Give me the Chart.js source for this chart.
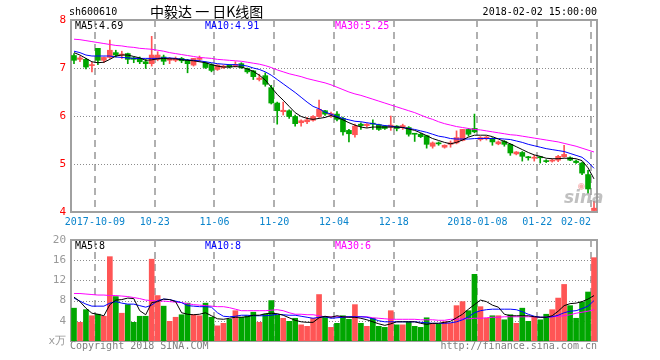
<!DOCTYPE html>
<html>
<head>
<meta charset="utf-8">
<script src="https://cdn.jsdelivr.net/npm/chart.js@4.4.0/dist/chart.umd.min.js"></script>
<style>
    body { margin: 0; background: #fff; }
    #wrap { position: relative; width: 660px; height: 360px; overflow: hidden;
            font-family: "DejaVu Sans Mono", monospace; font-size: 10px; }
    canvas { position: absolute; left: 0; top: 0; }
    .t { position: absolute; white-space: pre; line-height: 12px; }
</style>
</head>
<body>
<div id="wrap">
    <canvas id="kline" width="660" height="360"></canvas>
    <canvas id="vol" width="660" height="360"></canvas>

    <div class="t" style="left:69px;top:6px;color:#000">sh600610</div>
    <div class="t" style="left:150px;top:3px;line-height:16px;font-size:14px;font-family:'Noto Sans CJK SC',sans-serif;color:#000">中毅达 一 日K线图</div>
    <div class="t" style="right:63px;top:6px;color:#000">2018-02-02 15:00:00</div>

    <div class="t" style="left:75px;top:20px;color:#000">MA5:4.69</div>
    <div class="t" style="left:205px;top:20px;color:#0000ff">MA10:4.91</div>
    <div class="t" style="left:335px;top:20px;color:#ff00ff">MA30:5.25</div>

    <div class="t" style="left:75px;top:240px;color:#000">MA5:8</div>
    <div class="t" style="left:205px;top:240px;color:#0000ff">MA10:8</div>
    <div class="t" style="left:335px;top:240px;color:#ff00ff">MA30:6</div>

    <div class="t" style="left:578px;top:180px;font-size:11px;color:rgba(240,120,120,0.6)">◉</div>
    <div class="t" style="left:564px;top:188px;line-height:18px;font-size:17px;font-weight:bold;font-style:italic;font-family:'DejaVu Sans',sans-serif;color:rgba(150,150,150,0.6)">sina</div>

    <div class="t" style="left:70px;top:340px;color:#808080">Copyright 2018 SINA.COM</div>
    <div class="t" style="right:63px;top:340px;color:#808080">http://finance.sina.com.cn</div>
</div>

<script>
// trading days 2017-09-26 .. 2018-02-02, one slot each
const dateLabels = ['2017-10-09', '10-23', '11-06', '11-20', '12-04', '12-18', '2018-01-08', '01-22', '02-02'];
const dateIdx = [4, 14, 24, 34, 44, 54, 68, 78, 87];

const openP = [
    7.26, 7.18, 7.18, 7.05, 7.41, 7.16, 7.22, 7.32, 7.27, 7.30,
    7.21, 7.20, 7.13, 7.09, 7.18, 7.23, 7.16, 7.16, 7.20, 7.16,
    7.06, 7.18, 7.11, 7.07, 6.97, 7.01, 7.06, 7.05, 7.09, 6.99,
    6.94, 6.76, 6.84, 6.59, 6.27, 6.09, 6.11, 5.99, 5.86, 5.88,
    5.91, 5.99, 6.11, 6.02, 6.04, 5.95, 5.70, 5.61, 5.83, 5.80,
    5.84, 5.82, 5.79, 5.77, 5.79, 5.77, 5.76, 5.63, 5.62, 5.59,
    5.37, 5.43, 5.35, 5.41, 5.44, 5.49, 5.72, 5.74, 5.51, 5.53,
    5.53, 5.42, 5.47, 5.41, 5.21, 5.24, 5.14, 5.12, 5.15, 5.06,
    5.06, 5.08, 5.15, 5.13, 5.06, 5.02, 4.78, 4.03,
];
const highP = [
    7.30, 7.25, 7.20, 7.12, 7.41, 7.23, 7.58, 7.37, 7.35, 7.31,
    7.23, 7.23, 7.18, 7.66, 7.34, 7.27, 7.22, 7.23, 7.22, 7.18,
    7.20, 7.25, 7.13, 7.09, 7.07, 7.06, 7.07, 7.13, 7.11, 7.00,
    6.95, 6.87, 6.90, 6.64, 6.29, 6.29, 6.13, 6.02, 5.92, 5.97,
    6.01, 6.33, 6.12, 6.08, 6.09, 5.98, 5.72, 5.83, 5.86, 5.84,
    5.92, 5.83, 5.80, 6.00, 5.80, 5.83, 5.78, 5.64, 5.64, 5.60,
    5.46, 5.46, 5.40, 5.48, 5.69, 5.72, 5.74, 6.04, 5.57, 5.58,
    5.55, 5.48, 5.49, 5.42, 5.26, 5.26, 5.16, 5.18, 5.16, 5.09,
    5.10, 5.18, 5.39, 5.15, 5.08, 5.04, 4.87, 4.22,
];
const lowP = [
    7.09, 7.13, 6.98, 6.92, 7.07, 7.11, 7.20, 7.23, 7.20, 7.09,
    7.11, 7.09, 6.99, 7.04, 7.15, 7.07, 7.09, 7.13, 7.11, 6.90,
    7.04, 7.13, 6.99, 6.92, 6.95, 6.99, 7.00, 7.02, 6.99, 6.89,
    6.76, 6.73, 6.62, 6.25, 5.83, 6.02, 5.95, 5.79, 5.79, 5.84,
    5.89, 5.97, 6.01, 5.97, 5.90, 5.60, 5.46, 5.56, 5.72, 5.76,
    5.72, 5.70, 5.72, 5.70, 5.69, 5.72, 5.58, 5.47, 5.55, 5.33,
    5.33, 5.39, 5.33, 5.35, 5.42, 5.48, 5.58, 5.65, 5.48, 5.50,
    5.39, 5.40, 5.37, 5.18, 5.19, 5.06, 5.08, 5.06, 5.02, 5.03,
    5.04, 5.05, 5.14, 5.07, 5.01, 4.78, 4.39, 4.03,
];
const closeP = [
    7.16, 7.21, 7.02, 7.06, 7.16, 7.22, 7.37, 7.27, 7.28, 7.18,
    7.18, 7.13, 7.09, 7.27, 7.27, 7.14, 7.20, 7.20, 7.15, 7.09,
    7.20, 7.21, 7.01, 6.95, 7.06, 7.04, 7.02, 7.07, 7.01, 6.92,
    6.82, 6.79, 6.66, 6.27, 6.11, 6.12, 5.99, 5.84, 5.90, 5.92,
    5.99, 6.14, 6.04, 6.05, 5.93, 5.67, 5.63, 5.79, 5.80, 5.83,
    5.83, 5.72, 5.74, 5.81, 5.74, 5.80, 5.62, 5.62, 5.57, 5.41,
    5.44, 5.42, 5.39, 5.44, 5.55, 5.72, 5.62, 5.67, 5.55, 5.56,
    5.46, 5.46, 5.41, 5.23, 5.25, 5.16, 5.13, 5.14, 5.13, 5.05,
    5.07, 5.16, 5.20, 5.08, 5.03, 4.81, 4.48, 4.08,
];

const ma5 = [
    7.32, 7.27, 7.20, 7.13, 7.11, 7.12, 7.18, 7.25, 7.27, 7.27,
    7.24, 7.21, 7.16, 7.17, 7.19, 7.20, 7.19, 7.19, 7.17, 7.16,
    7.15, 7.13, 7.11, 7.07, 7.04, 7.02, 7.02, 7.03, 7.02, 6.98,
    6.93, 6.85, 6.75, 6.60, 6.45, 6.33, 6.20, 6.07, 5.99, 5.95,
    5.93, 5.95, 5.97, 6.01, 5.97, 5.92, 5.86, 5.81, 5.77, 5.75,
    5.77, 5.77, 5.77, 5.77, 5.77, 5.76, 5.73, 5.70, 5.65, 5.59,
    5.53, 5.49, 5.45, 5.42, 5.45, 5.50, 5.56, 5.60, 5.60, 5.60,
    5.57, 5.52, 5.47, 5.42, 5.36, 5.30, 5.24, 5.19, 5.16, 5.12,
    5.11, 5.11, 5.12, 5.12, 5.11, 5.07, 4.92, 4.69,
];
const ma10 = [
    7.35, 7.32, 7.27, 7.25, 7.25, 7.25, 7.25, 7.23, 7.22, 7.21,
    7.20, 7.20, 7.20, 7.20, 7.20, 7.21, 7.21, 7.20, 7.18, 7.17,
    7.16, 7.15, 7.13, 7.11, 7.09, 7.08, 7.07, 7.07, 7.06, 7.04,
    7.00, 6.97, 6.92, 6.85, 6.76, 6.67, 6.58, 6.49, 6.39, 6.29,
    6.20, 6.15, 6.08, 6.04, 5.99, 5.95, 5.92, 5.89, 5.88, 5.86,
    5.84, 5.82, 5.80, 5.79, 5.77, 5.76, 5.74, 5.72, 5.69, 5.66,
    5.62, 5.58, 5.56, 5.53, 5.52, 5.52, 5.52, 5.53, 5.53, 5.53,
    5.53, 5.53, 5.52, 5.51, 5.48, 5.45, 5.41, 5.38, 5.35, 5.32,
    5.30, 5.28, 5.26, 5.22, 5.18, 5.14, 5.04, 4.91,
];
const ma30 = [
    7.60, 7.59, 7.57, 7.55, 7.53, 7.51, 7.49, 7.47, 7.46, 7.44,
    7.43, 7.41, 7.40, 7.39, 7.37, 7.35, 7.32, 7.30, 7.28, 7.26,
    7.24, 7.22, 7.21, 7.20, 7.18, 7.17, 7.16, 7.15, 7.14, 7.12,
    7.10, 7.08, 7.05, 7.01, 6.96, 6.92, 6.88, 6.85, 6.82, 6.78,
    6.75, 6.72, 6.69, 6.65, 6.60, 6.55, 6.50, 6.46, 6.43, 6.39,
    6.35, 6.31, 6.27, 6.23, 6.19, 6.15, 6.11, 6.07, 6.02, 5.97,
    5.93, 5.88, 5.84, 5.81, 5.78, 5.76, 5.74, 5.72, 5.71, 5.69,
    5.67, 5.65, 5.63, 5.61, 5.60, 5.58, 5.56, 5.54, 5.52, 5.50,
    5.48, 5.46, 5.43, 5.40, 5.37, 5.33, 5.29, 5.25,
];

const volume = [
    6.5, 3.7, 6.2, 5.0, 5.3, 4.9, 16.7, 8.8, 5.5, 7.2,
    3.7, 4.9, 4.9, 16.2, 9.0, 6.9, 3.9, 4.7, 5.2, 7.5,
    5.2, 5.0, 7.5, 4.7, 3.0, 3.5, 4.3, 6.0, 4.7, 5.0,
    5.7, 3.7, 5.3, 8.0, 5.1, 4.5, 3.9, 4.5, 3.2, 2.9,
    4.5, 9.2, 4.8, 2.7, 3.5, 5.0, 4.3, 7.2, 3.5, 2.9,
    4.5, 2.9, 2.7, 6.0, 3.2, 3.2, 3.8, 2.9, 2.7, 4.6,
    3.5, 3.3, 3.8, 3.5, 7.0, 7.8, 6.0, 13.2, 6.8, 4.5,
    5.0, 5.0, 4.2, 5.2, 3.5, 6.5, 3.9, 4.7, 4.2, 5.3,
    6.2, 8.5, 11.2, 7.0, 4.5, 7.7, 9.7, 16.5,
];
const volMa5 = [
    8.7, 7.8, 6.5, 5.5, 5.3, 5.0, 7.2, 8.1, 8.2, 8.5,
    8.4, 6.0, 5.2, 7.6, 7.8, 8.3, 8.2, 7.8, 5.6, 5.3,
    5.2, 5.3, 5.6, 5.0, 4.4, 4.3, 4.5, 4.7, 4.7, 4.8,
    5.1, 5.1, 5.4, 5.5, 5.4, 5.1, 4.6, 4.1, 3.8, 3.7,
    3.7, 4.6, 4.9, 4.7, 5.0, 4.8, 4.7, 4.7, 4.5, 4.2,
    3.8, 3.4, 3.1, 3.4, 3.8, 3.8, 3.8, 3.8, 3.5, 3.3,
    3.5, 3.5, 3.7, 3.9, 4.6, 5.3, 6.3, 7.2, 8.1, 7.8,
    7.1, 6.7, 5.3, 5.0, 5.0, 5.0, 5.0, 4.8, 4.7, 4.7,
    5.0, 5.9, 7.0, 7.4, 7.5, 7.8, 8.3, 9.0,
];
const volMa10 = [
    8.5, 7.9, 7.3, 6.9, 6.9, 6.9, 7.5, 7.8, 7.5, 7.3,
    7.3, 7.0, 6.7, 7.1, 8.0, 8.3, 8.2, 7.9, 7.6, 7.0,
    6.9, 6.8, 6.8, 6.7, 5.6, 4.9, 4.8, 4.9, 5.1, 5.1,
    5.0, 5.0, 5.0, 5.1, 5.3, 5.2, 5.1, 5.1, 4.9, 4.7,
    4.5, 4.7, 4.8, 4.5, 4.6, 4.7, 4.8, 4.8, 4.8, 4.7,
    4.4, 4.0, 3.8, 3.8, 3.8, 3.8, 3.8, 3.8, 3.7, 3.6,
    3.5, 3.5, 3.5, 3.6, 3.8, 4.2, 4.8, 5.6, 6.0, 6.2,
    6.3, 6.3, 6.3, 6.3, 6.2, 5.8, 5.3, 4.9, 4.7, 4.7,
    4.8, 5.1, 5.6, 5.9, 6.0, 6.4, 6.9, 8.0,
];
const volMa30 = [
    9.4, 9.4, 9.3, 9.2, 9.1, 9.1, 9.0, 9.0, 8.9, 8.8,
    8.6, 8.4, 8.1, 8.0, 7.9, 7.9, 7.8, 7.7, 7.6, 7.4,
    7.2, 7.1, 7.0, 6.9, 6.8, 6.8, 6.6, 6.3, 6.0, 6.0,
    6.0, 6.0, 6.0, 6.1, 6.2, 6.0, 5.6, 5.3, 5.3, 5.2,
    5.2, 5.0, 4.8, 4.8, 4.8, 4.8, 4.8, 4.8, 4.8, 4.8,
    4.6, 4.5, 4.4, 4.3, 4.3, 4.3, 4.3, 4.3, 4.2, 4.2,
    4.2, 4.1, 4.1, 4.3, 4.3, 4.4, 4.4, 4.5, 4.5, 4.6,
    4.7, 4.7, 4.8, 4.8, 4.8, 4.8, 4.8, 4.8, 4.7, 4.7,
    4.8, 4.9, 5.0, 5.2, 5.5, 5.7, 5.9, 6.2,
];

const N = closeP.length;
const UP = '#ff5555';
const DOWN = '#00a600';
const candleColor = closeP.map((c, i) => (c >= openP[i] ? UP : DOWN));
const pts = (arr) => arr.map((v, i) => ({ x: i, y: v }));

// grid lines sit on the left edge of a day's slot; a blank first tick keeps the
// 'inner' alignment from touching the first real label
const tickPos = [-0.5, ...dateIdx.map((d) => d - 0.5)];

Chart.defaults.font.family = '"DejaVu Sans Mono", monospace';
Chart.defaults.font.size = 10;

// dashed date lines, dotted value lines and the grey frame
const gridPlugin = {
    id: 'gridFrame',
    beforeDatasetsDraw(chart) {
        const { ctx, chartArea: a, scales } = chart;
        const { x, y } = scales;
        ctx.save();

        ctx.strokeStyle = '#b0b0b0';
        ctx.lineWidth = 2;
        ctx.setLineDash([7, 5]);
        dateIdx.forEach((d) => {
            const px = Math.round(x.getPixelForValue(d - 0.5));
            ctx.beginPath();
            ctx.moveTo(px, a.top);
            ctx.lineTo(px, a.bottom);
            ctx.stroke();
        });

        ctx.strokeStyle = '#8c8c8c';
        ctx.lineWidth = 1;
        ctx.setLineDash([1, 2]);
        y.ticks.forEach((t) => {
            if (t.value <= y.min || t.value >= y.max) return;
            const py = Math.round(y.getPixelForValue(t.value)) + 0.5;
            ctx.beginPath();
            ctx.moveTo(a.left, py);
            ctx.lineTo(a.right, py);
            ctx.stroke();
        });

        ctx.setLineDash([]);
        ctx.strokeStyle = '#a0a0a0';
        ctx.lineWidth = 2;
        ctx.strokeRect(a.left, a.top, a.right - a.left, a.bottom - a.top);
        ctx.restore();
    },
};

function xAxis(showLabels, height) {
    return {
        type: 'linear',
        min: -0.5,
        max: N - 0.5,
        offset: false,
        afterBuildTicks: (scale) => {
            scale.ticks = tickPos.map((v) => ({ value: v }));
        },
        afterFit: (scale) => {
            scale.height = height;
        },
        grid: { display: false, offset: false, drawTicks: false },
        border: { display: false },
        ticks: {
            display: showLabels,
            autoSkip: false,
            maxRotation: 0,
            align: 'inner',
            padding: 4,
            color: '#0a84cc',
            callback: (v) => {
                const k = dateIdx.indexOf(v + 0.5);
                return k < 0 ? '' : dateLabels[k];
            },
        },
    };
}

function yAxis(min, max, step, color, label) {
    return {
        min: min,
        max: max,
        afterFit: (scale) => {
            scale.width = 71;
        },
        ticks: { stepSize: step, padding: 5, color: color, font: { size: 11 }, callback: label },
        grid: { display: false, drawTicks: false },
        border: { display: false },
    };
}

function maLine(data, color) {
    return {
        type: 'line',
        data: pts(data),
        borderColor: color,
        borderWidth: 1,
        pointRadius: 0,
        tension: 0,
        order: 0,
    };
}

const common = {
    responsive: false,
    animation: false,
    events: [],
    plugins: { legend: { display: false }, tooltip: { enabled: false } },
};

new Chart(document.getElementById('kline'), {
    type: 'bar',
    data: {
        datasets: [
            maLine(ma5, '#000000'),
            maLine(ma10, '#0000ff'),
            maLine(ma30, '#ff00ff'),
            {
                type: 'bar',
                data: lowP.map((l, i) => ({ x: i, y: [l, highP[i]] })),
                backgroundColor: candleColor,
                barThickness: 1,
                grouped: false,
                order: 2,
            },
            {
                type: 'bar',
                data: openP.map((o, i) => ({ x: i, y: [o, closeP[i]] })),
                backgroundColor: candleColor,
                barThickness: 5,
                minBarLength: 1,
                grouped: false,
                order: 1,
            },
        ],
    },
    options: {
        ...common,
        layout: { padding: { left: 0, right: 63, top: 20, bottom: 0 } },
        scales: {
            x: xAxis(true, 148),
            y: yAxis(4, 8, 1, '#ff0000', (v) => v),
        },
    },
    plugins: [gridPlugin],
});

new Chart(document.getElementById('vol'), {
    type: 'bar',
    data: {
        datasets: [
            maLine(volMa5, '#000000'),
            maLine(volMa10, '#0000ff'),
            maLine(volMa30, '#ff00ff'),
            {
                type: 'bar',
                data: pts(volume),
                backgroundColor: candleColor,
                barThickness: 5,
                grouped: false,
                order: 1,
            },
        ],
    },
    options: {
        ...common,
        layout: { padding: { left: 0, right: 63, top: 240, bottom: 0 } },
        scales: {
            x: xAxis(false, 19),
            y: yAxis(0, 20, 4, '#999999', (v) => (v === 0 ? 'x万' : v)),
        },
    },
    plugins: [gridPlugin],
});
</script>
</body>
</html>
